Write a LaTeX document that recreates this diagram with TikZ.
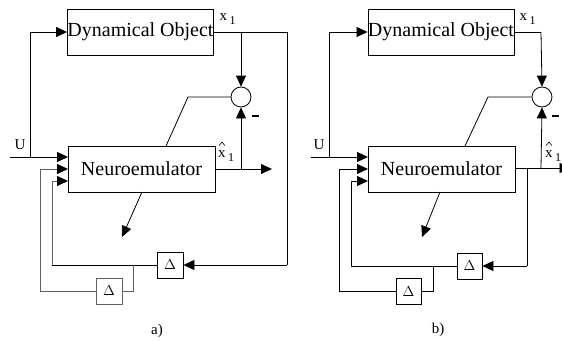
\documentclass[tikz,border=0pt]{standalone}
\usepackage{fontspec}
\setmainfont{Liberation Serif}
\usetikzlibrary{arrows.meta}
\tikzset{
  x=1pt, y=-1pt,
  wire/.style={line width=0.8pt, draw=black},
  gwire/.style={line width=0.8pt, draw=black!62},
  arr/.style={-{Triangle[length=11pt,width=10pt,color=black]}},
  bigbox/.style={draw, line width=0.8pt, minimum width=146pt, minimum height=46pt, inner sep=0pt, font=\fontsize{20}{20}\selectfont},
  dbox/.style={draw, line width=0.8pt, minimum width=26pt, minimum height=26pt, inner sep=0pt, font=\fontsize{15}{15}\selectfont},
  sumc/.style={draw, circle, line width=0.8pt, minimum size=20pt, inner sep=0pt},
  lab/.style={inner sep=0pt, font=\fontsize{15}{15}\selectfont},
  caption/.style={inner sep=0pt, font=\fontsize{15}{15}\selectfont},
  minus/.style={line width=1.8pt},
  hatmark/.style={line width=0.6pt}
}
\newcommand{\xsub}{x\hspace{2.5pt}\raisebox{-3.5pt}{\fontsize{12}{12}\selectfont 1}}
\begin{document}
\begin{tikzpicture}
\useasboundingbox (0,0) rectangle (562,340);
\clip (0,0) rectangle (562,340);
% ---------------- panel a ----------------
\node[bigbox, minimum width=145pt] (DOa) at (140.5,32) {Dynamical Object};
\node[bigbox, minimum width=147pt] (NEa) at (141.5,169) {Neuroemulator};
\node[sumc] (Sa) at (241,97) {};
\node[dbox] (Da) at (170,265) {$\Delta$};
\node[dbox, draw=black!62] (da) at (109,291) {$\Delta$};
\node[lab, anchor=west] (x1a) at (219.5,19) {\xsub};
\node[lab, anchor=west] (xh1a) at (218,156) {\xsub};
\node[lab] (Ua) at (20,144.5) {U};
\node[caption] (capa) at (157,331) {a)};
\coordinate (a1) at (287,32);
\coordinate (a2) at (287,265);
\coordinate (a3) at (241,32);
\coordinate (a4) at (188,97);
\coordinate (a5) at (166,146);
\coordinate (a6) at (272,169);
\coordinate (a7) at (241,169);
\coordinate (ain) at (10,157);
\coordinate (ab) at (30,157);
\coordinate (abt) at (30,32);
\coordinate (ae1) at (68,157);
\coordinate (ae2) at (68,169);
\coordinate (ae3) at (68,181);
\coordinate (ag1) at (52,265);
\coordinate (ag2) at (52,181);
\coordinate (ah1) at (133,265);
\coordinate (ah2) at (133,291);
\coordinate (ai1) at (40,291);
\coordinate (ai2) at (40,169);
\coordinate (ad1) at (142,192);
\coordinate (ad2) at (122,237);
\coordinate (am1) at (252,116);
\coordinate (am2) at (258.5,116);
\draw[wire] (DOa.east) -- (a1) -- (a2);
\draw[wire, arr] (a2) -- (Da.east);
\draw[wire, arr] (a3) -- (Sa.north);
\draw[wire] (Sa.west) -- (a4) -- (a5);
\draw[wire, arr] (NEa.east) -- (a6);
\draw[wire, arr] (a7) -- (Sa.south);
\draw[wire, arr] (ain) -- (ae1);
\draw[wire, arr] (ab) -- (abt) -- (DOa.west);
\draw[wire] (Da.west) -- (ag1);
\draw[gwire, arr] (ag1) -- (ag2) -- (ae3);
\draw[gwire] (ah1) -- (ah2) -- (da.east);
\draw[gwire, arr] (da.west) -- (ai1) -- (ai2) -- (ae2);
\draw[wire, arr] (ad1) -- (ad2);
\draw[minus] (am1) -- (am2);
\draw[hatmark] (219.2,145.5) -- (222,142) -- (224.8,145.5);
% ---------------- panel b ----------------
\node[bigbox] (DOb) at (441,32) {Dynamical Object};
\node[bigbox, minimum width=147pt] (NEb) at (441.5,169) {Neuroemulator};
\node[sumc] (Sb) at (542,97) {};
\node[dbox, minimum width=25pt] (Db) at (469.5,266) {$\Delta$};
\node[dbox, minimum width=25pt] (db) at (408.5,291.5) {$\Delta$};
\node[lab, anchor=west] (x1b) at (519.5,19) {\xsub};
\node[lab, anchor=west] (xh1b) at (545,156) {\xsub};
\node[lab] (Ub) at (319,144.5) {U};
\node[caption] (capb) at (438,330) {b)};
\coordinate (b1) at (541,32);
\coordinate (b4) at (488,97);
\coordinate (b5) at (465,146);
\coordinate (b6) at (570.5,168);
\coordinate (b7) at (541,168);
\coordinate (b8) at (527,168);
\coordinate (b9) at (527,266);
\coordinate (bin) at (311,157);
\coordinate (bb) at (329,157);
\coordinate (bbt) at (329,32);
\coordinate (be1) at (368,157);
\coordinate (be2) at (368,169);
\coordinate (be3) at (368,181);
\coordinate (bg1) at (351,266);
\coordinate (bg2) at (351,181);
\coordinate (bh1) at (433,266);
\coordinate (bh2) at (433,291.5);
\coordinate (bi1) at (339,291.5);
\coordinate (bi2) at (339,169);
\coordinate (bd1) at (440,192);
\coordinate (bd2) at (422,237);
\coordinate (bm1) at (552,116);
\coordinate (bm2) at (558.5,116);
\draw[wire] (DOb.east) -- (b1);
\draw[wire, arr] (b1) -- (Sb.north);
\draw[wire] (Sb.west) -- (b4) -- (b5);
\draw[wire, arr] (NEb.east |- b6) -- (b6);
\draw[wire, arr] (b7) -- (Sb.south);
\draw[wire] (b8) -- (b9);
\draw[wire, arr] (b9) -- (Db.east);
\draw[wire, arr] (bin) -- (be1);
\draw[wire, arr] (bb) -- (bbt) -- (DOb.west);
\draw[wire, arr] (Db.west) -- (bg1) -- (bg2) -- (be3);
\draw[wire] (bh1) -- (bh2) -- (db.east);
\draw[wire, arr] (db.west) -- (bi1) -- (bi2) -- (be2);
\draw[wire, arr] (bd1) -- (bd2);
\draw[minus] (bm1) -- (bm2);
\draw[hatmark] (546.2,145.5) -- (549,142) -- (551.8,145.5);
\end{tikzpicture}
\end{document}
